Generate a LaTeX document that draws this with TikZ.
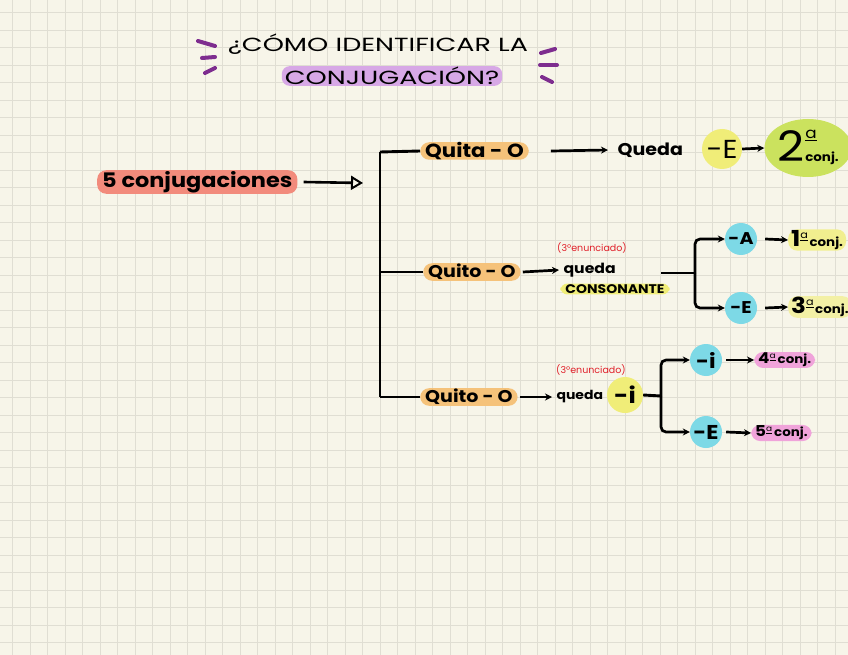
\documentclass[tikz,border=0pt]{standalone}
\usepackage{fontspec}
\setmainfont{Poppins}[FakeStretch=1.12]
\newfontfamily\titlefont[FakeStretch=1.42]{Poppins}
\newfontfamily\notefont{Poppins}
\usetikzlibrary{arrows.meta,shapes.geometric}
\definecolor{paper}{HTML}{F7F5E9}
\definecolor{gridc}{HTML}{E0DED3}
\definecolor{hlorange}{HTML}{F5C27A}
\definecolor{hlred}{HTML}{F28B7C}
\definecolor{hlyellow}{HTML}{F0ED78}
\definecolor{hlgreen}{HTML}{CBE25E}
\definecolor{hlblue}{HTML}{7DD9E6}
\definecolor{hlpink}{HTML}{F0A3DA}
\definecolor{hlpurple}{HTML}{D7A8E6}
\definecolor{markc}{HTML}{7E2D8F}
\definecolor{redtxt}{HTML}{E0202A}
\newcommand{\ordA}[1]{\underline{\smash{\fontsize{#1}{#1}\selectfont a}}}
\tikzset{
  hl/.style={fill=#1, rounded corners=9pt, inner xsep=5pt, inner ysep=2pt},
  circ/.style={circle, fill=#1, inner sep=0pt, minimum size=32pt},
  arr/.style={-{Stealth[length=7pt,width=7pt]}, line width=2.7pt},
  openarr/.style={-{Triangle[open,length=12pt,width=14pt,line width=2pt]}, line width=2.6pt},
  ln/.style={line width=2.9pt},
  purplemark/.style={markc, line width=4pt, line cap=round},
  txt/.style={font=\bfseries\fontsize{19}{19}\selectfont},
  small/.style={font=\notefont\fontsize{9.5}{9.5}\selectfont, text=redtxt},
}
\begin{document}
\begin{tikzpicture}[x=1pt,y=-1pt]
\fill[paper] (0,0) rectangle (848,655);
\useasboundingbox (0,0) rectangle (848,655);
\foreach \i in {0,...,47} \draw[gridc, line width=0.8pt] ({12.5+17.5*\i},0) -- ({12.5+17.5*\i},655);
\foreach \j in {0,...,36} \draw[gridc, line width=0.8pt] (0,{12.5+17.5*\j}) -- (848,{12.5+17.5*\j});

% title
\node[font=\titlefont\fontsize{19}{19}\selectfont] (t1) at (378,44) {¿CÓMO IDENTIFICAR LA};
\node[hl=hlpurple, rounded corners=8pt, inner ysep=1pt, inner xsep=3pt, font=\titlefont\fontsize{19}{19}\selectfont] (t2) at (392,76) {CONJUGACIÓN?};
\draw[purplemark] (198,41) -- (215,46);
\draw[purplemark] (202,58) -- (215,57);
\draw[purplemark] (205,73) -- (215,68);
\draw[purplemark] (541,53) -- (555,49);
\draw[purplemark] (540,65) -- (557,65);
\draw[purplemark] (542,77) -- (552,82);

% left
\node[hl=hlred, font=\bfseries\fontsize{20}{20}\selectfont, anchor=west, inner ysep=1pt] (five) at (97,182) {5 conjugaciones};
\coordinate (fe) at (363,183);
\draw[openarr] ([xshift=6pt]five.east) -- (fe);

% bracket
\coordinate (bt) at (380,152);
\coordinate (bm) at (380,272);
\coordinate (bb) at (380,397);
\draw[ln] (bt) -- (bb);

% top row
\node[hl=hlorange, txt, anchor=west, inner ysep=0pt] (q1) at (420,151) {Quita - O};
\draw[ln] (bt) -- (q1.west);
\node[txt, font=\bfseries\fontsize{17}{17}\selectfont, anchor=west] (queda1) at (614,150) {Queda};
\draw[arr] ([xshift=22pt]q1.east) -- ([xshift=-6pt]queda1.west);
\node[circ=hlyellow, minimum size=40pt, font=\fontsize{26}{26}\selectfont] (E1) at (722,149) {-E};
\node[ellipse, fill=hlgreen, minimum width=82pt, minimum height=58pt, inner sep=0pt] (c2) at (808,148)
  {{\fontsize{42}{42}\selectfont 2}\kern1pt\begin{tabular}[b]{@{}l@{}}\raisebox{14pt}{\ordA{15}}\\[-4pt]{\bfseries\fontsize{12}{12}\selectfont conj.}\end{tabular}};
\draw[arr] (E1.east) -- (c2.west);

% middle row
\node[hl=hlorange, txt, font=\bfseries\fontsize{17}{17}\selectfont, anchor=west, inner ysep=1pt] (q2) at (423,272) {Quito - O};
\draw[ln] (bm) -- (q2.west);
\node[font=\bfseries\fontsize{14}{14}\selectfont, anchor=west] (queda2) at (560,270) {queda};
\draw[arr] ([xshift=2pt]q2.east) -- ([xshift=-1pt]queda2.west);
\node[small] (en2) at (592,248) {(3ºenunciado)};
\node[hl=hlyellow, rounded corners=7pt, inner ysep=1pt, inner xsep=5pt, font=\bfseries\fontsize{12.5}{12.5}\selectfont] (cons) at (615,289) {CONSONANTE};
\coordinate (s2) at (661,273);
\coordinate (j2) at (695,273);
\node[circ=hlblue, font=\bfseries\fontsize{17}{17}\selectfont] (A2) at (741,239) {-A};
\node[circ=hlblue, font=\bfseries\fontsize{17}{17}\selectfont] (E2) at (741,308) {-E};
\draw[ln] (s2) -- (j2);
\draw[arr, rounded corners=5pt] (j2) |- (A2.west);
\draw[arr, rounded corners=5pt] (j2) |- (E2.west);
\node[hl=hlyellow!80!paper, anchor=west, inner xsep=3pt, inner ysep=1pt] (c1) at (788,240)
  {{\bfseries\fontsize{22}{22}\selectfont 1}\raisebox{8pt}{\ordA{10}}\kern1.5pt{\bfseries\fontsize{12}{12}\selectfont conj.}};
\node[hl=hlyellow!60!paper, anchor=west, inner xsep=3pt, inner ysep=1pt] (c3) at (788,307)
  {{\bfseries\fontsize{22}{22}\selectfont 3}\raisebox{8pt}{\ordA{10}}\kern1.5pt{\bfseries\fontsize{12}{12}\selectfont conj.}};
\draw[arr] ([xshift=8pt]A2.east) -- (c1.west);
\draw[arr] ([xshift=8pt]E2.east) -- (c3.west);

% bottom row
\node[hl=hlorange, txt, font=\bfseries\fontsize{17}{17}\selectfont, anchor=west, inner ysep=1pt] (q3) at (420,397) {Quito - O};
\draw[ln] (bb) -- (q3.west);
\node[font=\bfseries\fontsize{12.5}{12.5}\selectfont, anchor=west] (queda3) at (553,397) {queda};
\draw[arr] ([xshift=2pt]q3.east) -- ([xshift=-1pt]queda3.west);
\node[small] (en3) at (591,370) {(3ºenunciado)};
\node[circ=hlyellow, minimum size=36pt, font=\bfseries\fontsize{22}{22}\selectfont] (I3) at (625,395) {-i};
\coordinate (j3) at (661,396);
\draw[ln] (I3.east) -- (j3);
\node[circ=hlblue, font=\bfseries\fontsize{20}{20}\selectfont] (I4) at (706,360) {-i};
\node[circ=hlblue, font=\bfseries\fontsize{20}{20}\selectfont] (E4) at (706,432) {-E};
\draw[arr, rounded corners=5pt] (j3) |- (I4.west);
\draw[arr, rounded corners=5pt] (j3) |- (E4.west);
\node[hl=hlpink, anchor=west, inner xsep=4pt, inner ysep=1pt] (c4) at (754,360)
  {{\bfseries\fontsize{15}{15}\selectfont 4}\raisebox{5pt}{\ordA{8}}\kern2pt{\bfseries\fontsize{12}{12}\selectfont conj.}};
\node[hl=hlpink, anchor=west, inner xsep=4pt, inner ysep=1pt] (c5) at (751,433)
  {{\bfseries\fontsize{15}{15}\selectfont 5}\raisebox{5pt}{\ordA{8}}\kern2pt{\bfseries\fontsize{12}{12}\selectfont conj.}};
\draw[arr] ([xshift=4pt]I4.east) -- (c4.west);
\draw[arr] ([xshift=4pt]E4.east) -- (c5.west);
\end{tikzpicture}
\end{document}
